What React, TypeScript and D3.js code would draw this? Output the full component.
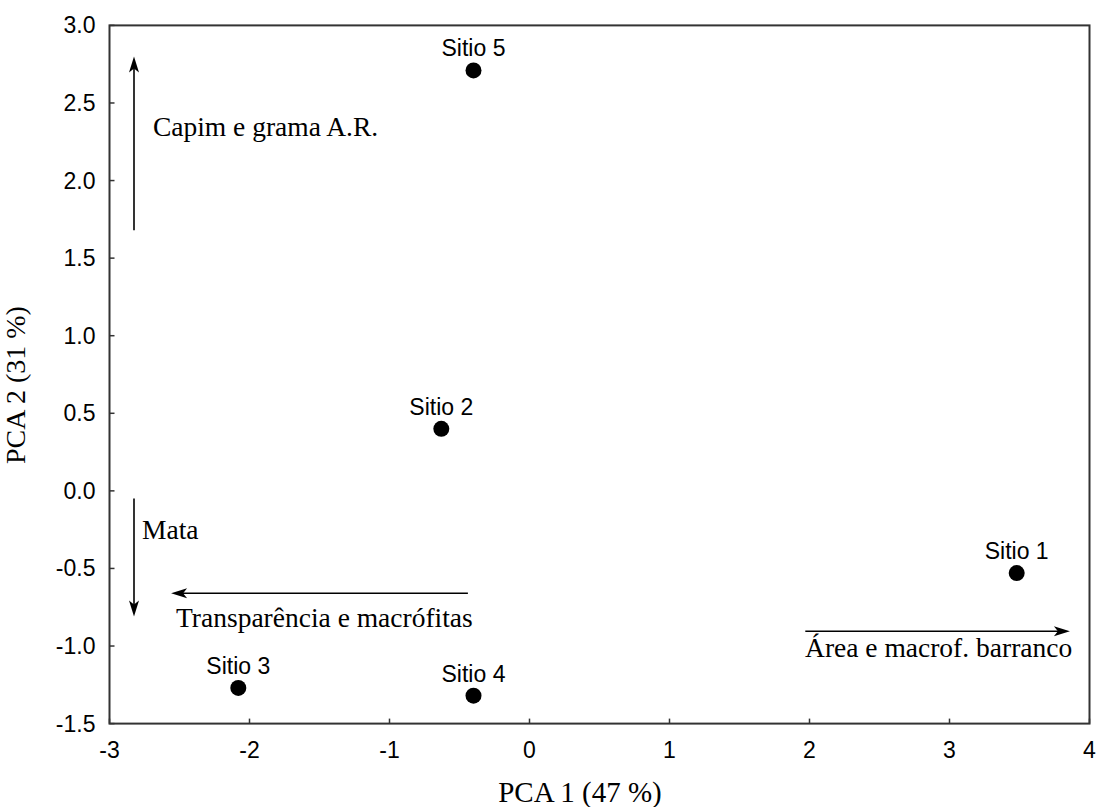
import React from "react";
import * as d3 from "d3";

const siteNames = ["Sitio 1", "Sitio 2", "Sitio 3", "Sitio 4", "Sitio 5"];
const pca1 = [3.48, -0.63, -2.08, -0.4, -0.4];
const pca2 = [-0.53, 0.4, -1.27, -1.32, 2.71];

const arrowLabels = ["Capim e grama A.R.", "Mata", "Transparência e macrófitas", "Área e macrof. barranco"];
const arrowX1 = [-2.825, -2.825, -0.44, 1.97];
const arrowY1 = [1.68, -0.05, -0.66, -0.905];
const arrowX2 = [-2.825, -2.825, -2.56, 3.86];
const arrowY2 = [2.8, -0.81, -0.66, -0.905];
const arrowLabelX = [-2.69, -2.768, -2.525, 1.968];
const arrowLabelY = [2.29, -0.31, -0.88, -1.07];

const xTicks = [-3, -2, -1, 0, 1, 2, 3, 4];
const xTickLabels = ["-3", "-2", "-1", "0", "1", "2", "3", "4"];
const yTicks = [3.0, 2.5, 2.0, 1.5, 1.0, 0.5, 0.0, -0.5, -1.0, -1.5];
const yTickLabels = ["3.0", "2.5", "2.0", "1.5", "1.0", "0.5", "0.0", "-0.5", "-1.0", "-1.5"];

const xTitle = "PCA 1 (47 %)";
const yTitle = "PCA 2 (31 %)";

const W = 1096;
const H = 807;
const left = 109.5;
const right = 1089.5;
const top = 25.4;
const bottom = 723.6;

const SANS = "'Liberation Sans', Arial, Helvetica, sans-serif";
const SERIF = "'Liberation Serif', 'Times New Roman', serif";

function arrowHead(x1: number, y1: number, x2: number, y2: number) {
  const ang = Math.atan2(y2 - y1, x2 - x1);
  const L = 16;
  const hw = 5;
  const notch = 4;
  const ux = Math.cos(ang), uy = Math.sin(ang);
  const px = -uy, py = ux;
  const bx = x2 - ux * L, by = y2 - uy * L;
  const nx = x2 - ux * (L - notch), ny = y2 - uy * (L - notch);
  const pts = [
    [x2, y2],
    [bx + px * hw, by + py * hw],
    [nx, ny],
    [bx - px * hw, by - py * hw],
  ];
  return "M" + pts.map((p) => p.join(",")).join("L") + "Z";
}

export default function App() {
  const x = d3.scaleLinear().domain([-3, 4]).range([left, right]);
  const y = d3.scaleLinear().domain([-1.5, 3.0]).range([bottom, top]);

  return (
    <svg
      width={W}
      height={H}
      style={{ position: "fixed", left: 0, top: 0, background: "#fff", display: "block" }}
    >
      <rect x={0} y={0} width={W} height={H} fill="#fff" />
      <rect
        x={left}
        y={top}
        width={right - left}
        height={bottom - top}
        fill="none"
        stroke="#333"
        strokeWidth={2}
      />
      {xTicks.map((t, i) => (
        <g key={"xt" + i}>
          <line x1={x(t)} x2={x(t)} y1={bottom} y2={bottom - 5} stroke="#333" strokeWidth={1.5} />
          <text
            x={x(t)}
            y={bottom + 34}
            textAnchor="middle"
            fontFamily={SANS}
            fontSize={23}
            fill="#000"
          >
            {xTickLabels[i]}
          </text>
        </g>
      ))}
      {yTicks.map((t, i) => (
        <g key={"yt" + i}>
          <line x1={left} x2={left + 5} y1={y(t)} y2={y(t)} stroke="#333" strokeWidth={1.5} />
          <text
            x={left - 14}
            y={y(t) + 8}
            textAnchor="end"
            fontFamily={SANS}
            fontSize={23}
            fill="#000"
          >
            {yTickLabels[i]}
          </text>
        </g>
      ))}
      <text x={580} y={802} textAnchor="middle" fontFamily={SERIF} fontSize={29} fill="#000">
        {xTitle}
      </text>
      <text
        transform={`translate(25, 385) rotate(-90)`}
        textAnchor="middle"
        fontFamily={SERIF}
        fontSize={28}
        fill="#000"
      >
        {yTitle}
      </text>
      {arrowLabels.map((lab, i) => {
        const x1 = x(arrowX1[i]), y1 = y(arrowY1[i]);
        const x2 = x(arrowX2[i]), y2 = y(arrowY2[i]);
        const ang = Math.atan2(y2 - y1, x2 - x1);
        const ex = x2 - Math.cos(ang) * 10, ey = y2 - Math.sin(ang) * 10;
        return (
          <g key={"ar" + i}>
            <line x1={x1} y1={y1} x2={ex} y2={ey} stroke="#000" strokeWidth={1.6} />
            <path d={arrowHead(x1, y1, x2, y2)} fill="#000" />
            <text
              x={x(arrowLabelX[i])}
              y={y(arrowLabelY[i])}
              fontFamily={SERIF}
              fontSize={27.5}
              fill="#000"
            >
              {lab}
            </text>
          </g>
        );
      })}
      {siteNames.map((s, i) => (
        <g key={"pt" + i}>
          <circle cx={x(pca1[i])} cy={y(pca2[i])} r={8} fill="#000" />
          <text
            x={x(pca1[i])}
            y={y(pca2[i]) - 14}
            textAnchor="middle"
            fontFamily={SANS}
            fontSize={23}
            fill="#000"
          >
            {s}
          </text>
        </g>
      ))}
    </svg>
  );
}
